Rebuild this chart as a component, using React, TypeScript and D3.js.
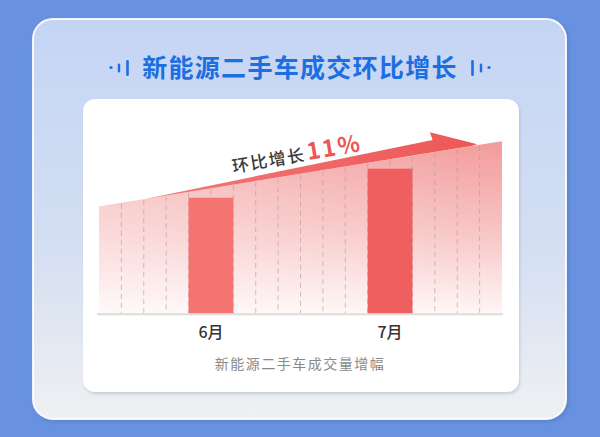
import React from 'react';
import * as d3 from 'd3';

const categories = ['6月', '7月'];
const values = [80, 100];
const barColumns = [4, 12];
const trendValues = [74, 119];
const columnCount = 18;
const title = '新能源二手车成交环比增长';
const subtitle = '新能源二手车成交量增幅';
const growthText = '环比增长';
const growthValue = '11%';

const W = 600;
const H = 437;
const baseline = 313.7;
const font = '"Noto Sans CJK SC", "Noto Sans", sans-serif';

const App: React.FC = () => {
  const x = d3.scaleLinear().domain([0, columnCount]).range([99, 502]);
  const y = d3.scaleLinear().domain([0, 100]).range([baseline, 168.7]);
  const trend = d3.scaleLinear().domain([0, columnCount]).range(trendValues);
  const topAt = (c: number) => y(trend(c));

  const area = d3.area<number>()
    .x(c => x(c))
    .y0(baseline)
    .y1(c => topAt(c));
  const areaD = area(d3.range(0, columnCount + 1)) || '';

  const cols = d3.range(1, columnCount);

  // arrow sits on the trend edge and widens to the right
  const a0 = 2.05;
  const aHead = 14.9;
  const aBack = 14.78;
  const aTip = 16.9;
  const arrowPts: [number, number][] = [
    [x(a0), topAt(a0)],
    [x(aHead), topAt(aHead) - 12.5],
    [x(aBack), topAt(aBack) - 20.5],
    [x(aTip), topAt(aTip) - 1],
    [x(aTip) - 6, topAt(aTip - 0.27)],
    [x(a0), topAt(a0)],
  ];
  const arrowPath = d3.line()(arrowPts) + 'Z';

  const labelX = x(6.0);
  const labelY = topAt(6.0) - 12;

  const deco = (side: 1 | -1) => {
    const cx = 300;
    return (
      <g fill="#1d6ee0">
        <circle cx={cx - side * 189} cy={67.5} r={1.6} />
        <rect x={cx - side * 181 - 1.2} y={63.5} width={2.4} height={9} rx={1.2} />
        <rect x={cx - side * 172.5 - 1.3} y={60} width={2.6} height={16} rx={1.3} />
      </g>
    );
  };

  return (
    <svg width={W} height={H} style={{ position: 'fixed', left: 0, top: 0 }} fontFamily={font}>
      <defs>
        <linearGradient id="cardBg" x1="0" y1="0" x2="0" y2="1">
          <stop offset="0%" stopColor="#c4d5f4" />
          <stop offset="55%" stopColor="#d3def2" />
          <stop offset="100%" stopColor="#eff0f2" />
        </linearGradient>
        <linearGradient id="areaFill" gradientUnits="userSpaceOnUse" x1="0" y1="141" x2="0" y2={baseline}>
          <stop offset="0%" stopColor="#f39a9a" />
          <stop offset="55%" stopColor="#f8c7c7" />
          <stop offset="100%" stopColor="#fff6f6" />
        </linearGradient>
        <linearGradient id="areaFade" gradientUnits="userSpaceOnUse" x1="99" y1="0" x2="502" y2="0">
          <stop offset="0%" stopColor="#ffffff" stopOpacity={0.35} />
          <stop offset="100%" stopColor="#ffffff" stopOpacity={0} />
        </linearGradient>
        <linearGradient id="arrowFill" gradientUnits="userSpaceOnUse" x1="140" y1="0" x2="480" y2="0">
          <stop offset="0%" stopColor="#f27a7a" />
          <stop offset="100%" stopColor="#ee5656" />
        </linearGradient>
        <filter id="cardShadow" x="-10%" y="-10%" width="120%" height="120%">
          <feDropShadow dx="1" dy="2" stdDeviation="1.5" floodColor="#8090b0" floodOpacity="0.35" />
        </filter>
        <filter id="outerShadow" x="-10%" y="-10%" width="120%" height="120%">
          <feDropShadow dx="2" dy="2" stdDeviation="2" floodColor="#3f63b0" floodOpacity="0.35" />
        </filter>
      </defs>

      <rect width={W} height={H} fill="#6892e0" />
      <rect x={33} y={19} width={533} height={400} rx={20} fill="url(#cardBg)"
        stroke="#ffffff" strokeOpacity={0.9} strokeWidth={2} filter="url(#outerShadow)" />

      {deco(1)}
      {deco(-1)}
      <text x={300} y={76.5} textAnchor="middle" fontSize={25} fontWeight={700}
        fill="#1d6ee0" letterSpacing={1.3}>{title}</text>

      <rect x={83} y={99} width={436} height={293} rx={12} fill="#ffffff" filter="url(#cardShadow)" />

      <path d={areaD} fill="url(#areaFill)" />
      <path d={areaD} fill="url(#areaFade)" />

      {cols.map(c => (
        <line key={c} x1={x(c)} x2={x(c)} y1={topAt(c) + 1} y2={baseline}
          stroke="#b69a9a" strokeOpacity={0.6} strokeWidth={1} strokeDasharray="5 4" />
      ))}

      {categories.map((cat, i) => (
        <rect key={cat} x={x(barColumns[i])} y={y(values[i])}
          width={x(barColumns[i] + 2) - x(barColumns[i])} height={baseline - y(values[i])}
          fill={i === 0 ? '#f47472' : '#ef5f5f'} />
      ))}

      <line x1={97} x2={503} y1={baseline + 0.5} y2={baseline + 0.5} stroke="#dcdcdc" strokeWidth={2} />

      <path d={arrowPath} fill="url(#arrowFill)" />

      <g transform={`translate(${labelX},${labelY}) rotate(-9.6)`}>
        <text x={0} y={0} fontSize={17} fontWeight={500} fill="#3b3b3b" letterSpacing={1.5}>
          {growthText}
          <tspan dx={2} fontSize={23} fontWeight={700} fill="#ee5555" letterSpacing={2}>{growthValue}</tspan>
        </text>
      </g>

      {categories.map((cat, i) => (
        <text key={cat} x={x(barColumns[i] + 1)} y={338} textAnchor="middle" fontSize={16}
          fontWeight={500} fill="#333333">{cat}</text>
      ))}

      <text x={300} y={369} textAnchor="middle" fontSize={14} fill="#8a8a8a" letterSpacing={1.5}>{subtitle}</text>
    </svg>
  );
};

export default App;
